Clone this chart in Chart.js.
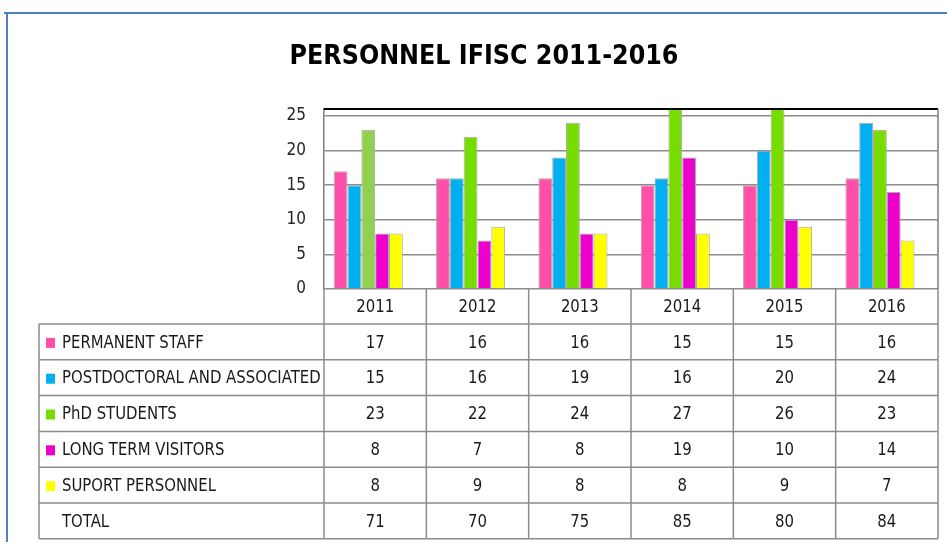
<!DOCTYPE html>
<html>
<head>
<meta charset="utf-8">
<script src="https://cdn.jsdelivr.net/npm/chart.js@4.4.1/dist/chart.umd.min.js"></script>
<style>
  html, body { margin: 0; padding: 0; background: #ffffff; }
  #wrap { position: relative; width: 947px; height: 542px; }
  canvas { display: block; }
</style>
</head>
<body>
<div id="wrap"><canvas id="c" width="947" height="542"></canvas></div>
<script>
// ---- data ----
const years = ['2011', '2012', '2013', '2014', '2015', '2016'];
const seriesNames = ['PERMANENT STAFF', 'POSTDOCTORAL AND ASSOCIATED', 'PhD STUDENTS', 'LONG TERM VISITORS', 'SUPORT PERSONNEL'];
const permanentStaff = [17, 16, 16, 15, 15, 16];
const postdoctoral   = [15, 16, 19, 16, 20, 24];
const phdStudents    = [23, 22, 24, 27, 26, 23];
const longTermVisitors = [8, 7, 8, 19, 10, 14];
const supportPersonnel = [8, 9, 8, 8, 9, 7];
const totals = [71, 70, 75, 85, 80, 84];
const yTicks = [0, 5, 10, 15, 20, 25];
const yMax = 26;

// ---- styling ----
const seriesColors = ['#ff4fa8', '#00b0f0', '#77dd00', '#ee00cc', '#ffff00'];
const phdColors = ['#92d050', '#77dd00', '#77dd00', '#77dd00', '#77dd00', '#77dd00'];
const FONT = "'DejaVu Sans Condensed', 'Liberation Sans Narrow', sans-serif";
const TITLE_FONT = "'DejaVu Sans Condensed', 'Liberation Sans Narrow', sans-serif";
const seriesData = [permanentStaff, postdoctoral, phdStudents, longTermVisitors, supportPersonnel];

const datasets = seriesData.map((d, i) => ({
  label: seriesNames[i],
  data: d,
  backgroundColor: i === 2 ? phdColors : seriesColors[i],
  borderColor: '#ababab',
  borderWidth: 1,
  barPercentage: 1.0,
  categoryPercentage: 0.81
}));
// TOTAL series exists in the chart but has no fill (occupies a slot in each group)
datasets.push({
  label: 'TOTAL',
  data: totals,
  backgroundColor: 'rgba(0,0,0,0)',
  borderWidth: 0,
  barPercentage: 1.0,
  categoryPercentage: 0.81
});

function narrowText(ctx, text, x, y, align) {
  const sx = 0.92;
  ctx.save();
  ctx.translate(x, y);
  ctx.scale(sx, 1);
  ctx.textAlign = align;
  ctx.fillText(text, 0, 0);
  ctx.restore();
}

const decorPlugin = {
  id: 'decor',
  beforeDraw(chart) {
    const ctx = chart.ctx;
    ctx.save();
    ctx.fillStyle = '#ffffff';
    ctx.fillRect(0, 0, chart.width, chart.height);
    ctx.strokeStyle = '#4f7fbf';
    ctx.lineWidth = 2;
    ctx.beginPath();
    ctx.moveTo(4, 13); ctx.lineTo(chart.width, 13);
    ctx.moveTo(7, 13); ctx.lineTo(7, chart.height);
    ctx.stroke();
    ctx.restore();
  },
  afterDraw(chart) {
    const ctx = chart.ctx;
    const area = chart.chartArea;
    const xs = chart.scales.x;
    const n = years.length;
    const colW = (area.right - area.left) / n;
    const tableLeft = 39;
    const headerTop = area.bottom;
    const headerBottom = headerTop + 35;
    const rowH = 35.8;
    const rowLabels = seriesNames.concat(['TOTAL']);
    const rowValues = seriesData.concat([totals]);
    const tableBottom = headerBottom + rowH * rowLabels.length;

    ctx.save();
    // plot frame: black top, grey right
    ctx.strokeStyle = '#000000';
    ctx.lineWidth = 2;
    ctx.beginPath();
    ctx.moveTo(area.left, area.top); ctx.lineTo(area.right, area.top);
    ctx.stroke();
    ctx.strokeStyle = '#7f7f7f';
    ctx.lineWidth = 1.5;
    ctx.beginPath();
    ctx.moveTo(area.right, area.top); ctx.lineTo(area.right, area.bottom);
    ctx.stroke();

    // table grid
    ctx.strokeStyle = '#8c8c8c';
    ctx.lineWidth = 1.5;
    ctx.beginPath();
    for (let r = 0; r <= rowLabels.length; r++) {
      const y = headerBottom + r * rowH;
      ctx.moveTo(tableLeft, y); ctx.lineTo(area.right, y);
    }
    ctx.moveTo(tableLeft, headerBottom); ctx.lineTo(tableLeft, tableBottom);
    for (let c = 0; c <= n; c++) {
      const x = area.left + c * colW;
      ctx.moveTo(x, headerTop); ctx.lineTo(x, tableBottom);
    }
    ctx.stroke();

    // header years
    ctx.fillStyle = '#1a1a1a';
    ctx.font = '18px ' + FONT;
    ctx.textBaseline = 'middle';
    years.forEach((yr, i) => {
      narrowText(ctx, yr, xs.getPixelForValue(i), (headerTop + headerBottom) / 2 + 1, 'center');
    });

    // rows
    rowLabels.forEach((lab, r) => {
      const yMid = headerBottom + r * rowH + rowH / 2 + 1;
      if (r < seriesColors.length) {
        ctx.fillStyle = seriesColors[r];
        ctx.fillRect(46, yMid - 5, 9, 10);
      }
      ctx.fillStyle = '#1a1a1a';
      narrowText(ctx, lab, 62, yMid, 'left');
      rowValues[r].forEach((v, i) => {
        narrowText(ctx, String(v), xs.getPixelForValue(i), yMid, 'center');
      });
    });
    ctx.restore();
  }
};

new Chart(document.getElementById('c'), {
  type: 'bar',
  data: { labels: years, datasets: datasets },
  options: {
    responsive: false,
    devicePixelRatio: 1,
    animation: false,
    layout: { padding: { left: 30, right: 9, top: 0, bottom: 253 } },
    plugins: {
      legend: { display: false },
      tooltip: { enabled: false },
      title: {
        display: true,
        text: 'PERSONNEL IFISC 2011-2016',
        color: '#000000',
        font: { family: TITLE_FONT, size: 26.5, weight: 'bold', lineHeight: 1.2 },
        padding: { top: 41, bottom: 36.2 }
      }
    },
    scales: {
      x: {
        ticks: { display: false },
        grid: { display: false, drawTicks: false },
        border: { display: false }
      },
      y: {
        min: 0,
        max: yMax,
        afterBuildTicks: (s) => { s.ticks = yTicks.map(v => ({ value: v })); },
        afterFit: (s) => { s.width = 294; },
        ticks: { color: '#262626', font: { family: FONT, size: 17 }, padding: 18 },
        grid: { color: '#8c8c8c', lineWidth: 1.5, drawTicks: false },
        border: { display: true, color: '#7f7f7f', width: 1.5 }
      }
    }
  },
  plugins: [decorPlugin]
});
</script>
</body>
</html>
